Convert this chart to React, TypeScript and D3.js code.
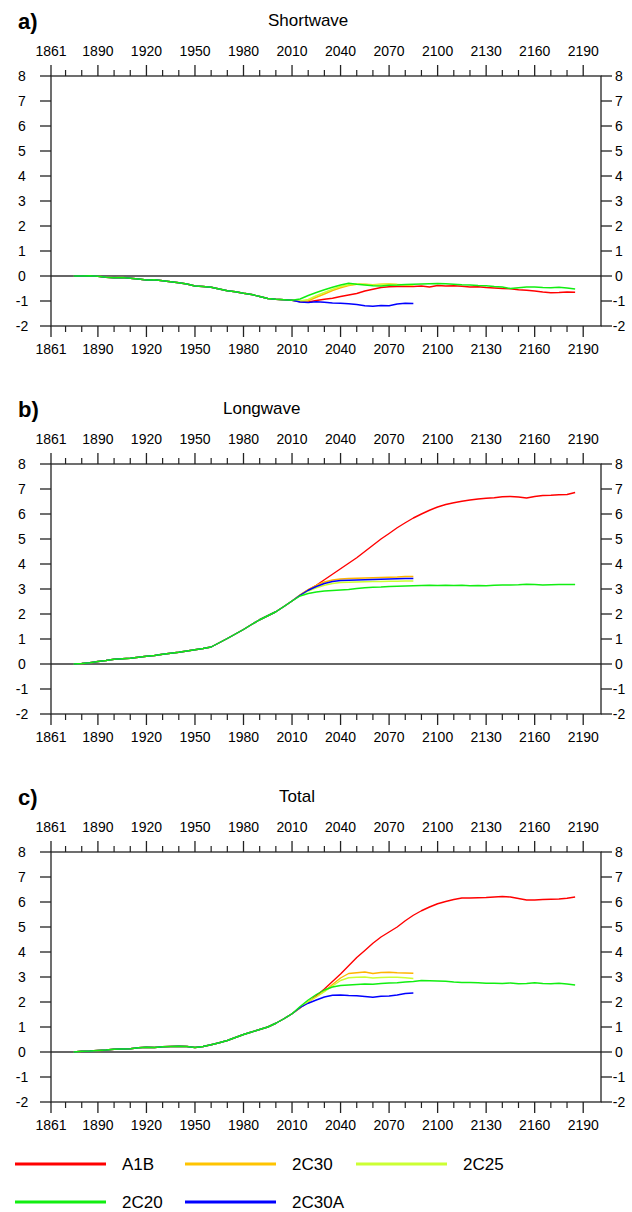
import React, { useEffect, useRef } from 'react';
import * as d3 from 'd3';

// years shared by every run before the scenarios split
const histYears = [
  1875, 1880, 1885, 1890, 1895, 1900, 1905, 1910, 1915, 1920, 1925, 1930, 1935, 1940,
  1945, 1950, 1955, 1960, 1965, 1970, 1975, 1980, 1985, 1990, 1995, 2000, 2005, 2010,
];
// scenario years (long runs); short runs stop at 2085
const scenYears = [
  2010, 2015, 2020, 2025, 2030, 2035, 2040, 2045, 2050, 2055, 2060, 2065, 2070, 2075,
  2080, 2085, 2090, 2095, 2100, 2105, 2110, 2115, 2120, 2125, 2130, 2135, 2140, 2145,
  2150, 2155, 2160, 2165, 2170, 2175, 2180, 2185,
];

const xMajorTicks = [1861, 1890, 1920, 1950, 1980, 2010, 2040, 2070, 2100, 2130, 2160, 2190];
const xMinorTicks = [
  1870, 1880, 1900, 1910, 1930, 1940, 1960, 1970, 1990, 2000, 2020, 2030, 2050, 2060,
  2080, 2090, 2110, 2120, 2140, 2150, 2170, 2180,
];
const yTicks = [-2, -1, 0, 1, 2, 3, 4, 5, 6, 7, 8];

const seriesNames = ['A1B', '2C30', '2C25', '2C30A', '2C20'];
const seriesColors = ['#ff0000', '#ffb400', '#ccff33', '#0000ff', '#11ee11'];
const legendNames = ['A1B', '2C30', '2C25', '2C20', '2C30A'];
const legendColors = ['#ff0000', '#ffc400', '#ccff33', '#11ee11', '#0000ff'];

// a) Shortwave
const swHist = [
  0.0, 0.0, 0.01, -0.01, -0.05, -0.07, -0.06, -0.09, -0.12, -0.16, -0.15, -0.19, -0.23, -0.27,
  -0.32, -0.4, -0.42, -0.45, -0.52, -0.59, -0.63, -0.69, -0.74, -0.82, -0.9, -0.93, -0.95, -0.97,
];
const swA1B = [
  -0.97, -1.03, -1.04, -0.98, -0.93, -0.89, -0.82, -0.76, -0.7, -0.6, -0.53, -0.46, -0.43, -0.42,
  -0.41, -0.42, -0.4, -0.44, -0.38, -0.4, -0.39, -0.41, -0.44, -0.43, -0.46, -0.48, -0.5, -0.51,
  -0.55, -0.57, -0.6, -0.64, -0.67, -0.66, -0.64, -0.65,
];
const sw2C30 = [-0.97, -1.02, -0.99, -0.85, -0.72, -0.58, -0.47, -0.38, -0.33, -0.33, -0.35, -0.33, -0.32, -0.34, -0.35, -0.36];
const sw2C25 = [-0.97, -1.0, -0.94, -0.79, -0.66, -0.53, -0.42, -0.35, -0.32, -0.34, -0.36, -0.34, -0.33, -0.34, -0.35, -0.36];
const sw2C30A = [-0.97, -1.04, -1.06, -1.03, -1.05, -1.08, -1.09, -1.11, -1.14, -1.19, -1.21, -1.18, -1.19, -1.12, -1.09, -1.1];
const sw2C20 = [
  -0.97, -0.92, -0.78, -0.66, -0.55, -0.45, -0.36, -0.29, -0.33, -0.36, -0.39, -0.4, -0.37, -0.36,
  -0.34, -0.33, -0.32, -0.31, -0.3, -0.31, -0.33, -0.35, -0.36, -0.38, -0.39, -0.42, -0.44, -0.5,
  -0.47, -0.44, -0.44, -0.46, -0.47, -0.45, -0.48, -0.52,
];

// b) Longwave
const lwHist = [
  0.0, 0.02, 0.05, 0.1, 0.14, 0.19, 0.21, 0.23, 0.27, 0.31, 0.34, 0.39, 0.43, 0.47,
  0.52, 0.57, 0.62, 0.68, 0.85, 1.02, 1.2, 1.38, 1.58, 1.77, 1.93, 2.09, 2.3, 2.52,
];
const lwA1B = [
  2.52, 2.76, 2.97, 3.15, 3.37, 3.59, 3.81, 4.03, 4.25, 4.5, 4.75, 5.0, 5.22, 5.45,
  5.65, 5.84, 6.0, 6.15, 6.28, 6.38, 6.45, 6.51, 6.56, 6.6, 6.63, 6.65, 6.69, 6.7,
  6.68, 6.64, 6.7, 6.74, 6.75, 6.77, 6.78, 6.86,
];
const lw2C30 = [2.52, 2.77, 2.98, 3.15, 3.28, 3.36, 3.4, 3.42, 3.43, 3.44, 3.45, 3.46, 3.47, 3.48, 3.5, 3.5];
const lw2C25 = [2.52, 2.74, 2.92, 3.05, 3.15, 3.22, 3.26, 3.27, 3.28, 3.29, 3.3, 3.3, 3.31, 3.31, 3.32, 3.32];
const lw2C30A = [2.52, 2.75, 2.95, 3.1, 3.22, 3.3, 3.34, 3.35, 3.36, 3.37, 3.38, 3.39, 3.4, 3.41, 3.42, 3.42];
const lw2C20 = [
  2.52, 2.72, 2.82, 2.88, 2.92, 2.94, 2.96, 2.98, 3.02, 3.05, 3.07, 3.08, 3.1, 3.11,
  3.12, 3.13, 3.14, 3.15, 3.14, 3.15, 3.14, 3.15, 3.13, 3.14, 3.13, 3.15, 3.16, 3.16,
  3.17, 3.19, 3.18, 3.16, 3.17, 3.18, 3.18, 3.18,
];

// c) Total
const totHist = [
  0.0, 0.03, 0.04, 0.06, 0.08, 0.11, 0.12, 0.13, 0.17, 0.19, 0.18, 0.21, 0.22, 0.23,
  0.22, 0.18, 0.22, 0.29, 0.37, 0.46, 0.58, 0.7, 0.8, 0.9, 1.0, 1.15, 1.33, 1.53,
];
const totA1B = [
  1.53, 1.76, 2.0, 2.25, 2.52, 2.82, 3.12, 3.45, 3.78, 4.06, 4.35, 4.6, 4.8, 5.0,
  5.25, 5.47, 5.65, 5.8, 5.93, 6.02, 6.1, 6.16, 6.16, 6.17, 6.18, 6.2, 6.22, 6.2,
  6.14, 6.08, 6.08, 6.1, 6.11, 6.12, 6.15, 6.2,
];
const tot2C30 = [1.53, 1.77, 2.0, 2.21, 2.43, 2.7, 2.96, 3.14, 3.17, 3.2, 3.14, 3.18, 3.19, 3.17, 3.16, 3.15];
const tot2C25 = [1.53, 1.78, 2.01, 2.2, 2.41, 2.64, 2.86, 2.97, 2.99, 3.0, 2.96, 2.98, 2.99, 2.99, 2.97, 2.94];
const tot2C30A = [1.53, 1.78, 1.95, 2.08, 2.2, 2.27, 2.28, 2.26, 2.25, 2.22, 2.19, 2.23, 2.24, 2.28, 2.34, 2.36];
const tot2C20 = [
  1.53, 1.82, 2.08, 2.3, 2.48, 2.6, 2.66, 2.68, 2.7, 2.72, 2.71, 2.74, 2.76, 2.77,
  2.8, 2.82, 2.86, 2.85, 2.84, 2.83, 2.8, 2.78, 2.78, 2.77, 2.75, 2.75, 2.74, 2.76,
  2.73, 2.74, 2.77, 2.74, 2.73, 2.75, 2.72, 2.68,
];

const panels = [
  { label: 'a)', title: 'Shortwave', titleX: 268, top: 76, hist: swHist, runs: [swA1B, sw2C30, sw2C25, sw2C30A, sw2C20] },
  { label: 'b)', title: 'Longwave', titleX: 223, top: 464, hist: lwHist, runs: [lwA1B, lw2C30, lw2C25, lw2C30A, lw2C20] },
  { label: 'c)', title: 'Total', titleX: 279, top: 852, hist: totHist, runs: [totA1B, tot2C30, tot2C25, tot2C30A, tot2C20] },
];

const width = 632;
const height = 1212;
const left = 51;
const right = 601;
const panelH = 250;
const font = '"Liberation Sans", Arial, Helvetica, sans-serif';

const App = () => {
  const ref = useRef<SVGSVGElement>(null);

  useEffect(() => {
    const svg = d3.select(ref.current);
    svg.selectAll('*').remove();

    const x = d3.scaleLinear().domain([1861, 2201]).range([left, right]);

    panels.forEach(p => {
      const y = d3.scaleLinear().domain([-2, 8]).range([p.top + panelH, p.top]);
      const g = svg.append('g');

      // panel label and title
      g.append('text')
        .attr('x', 18).attr('y', p.top - 47)
        .style('font-size', '22px').style('font-weight', 'bold')
        .text(p.label);
      g.append('text')
        .attr('x', p.titleX).attr('y', p.top - 50)
        .style('font-size', '17px')
        .text(p.title);

      // zero line
      g.append('line')
        .attr('x1', left).attr('x2', right)
        .attr('y1', y(0)).attr('y2', y(0))
        .attr('stroke', '#333').attr('stroke-width', 1.3);

      // curves
      const line = d3.line<[number, number]>()
        .x(d => x(d[0]))
        .y(d => y(d[1]));

      p.runs.forEach((run, i) => {
        const pts: [number, number][] = p.hist.map((v, k) => [histYears[k], v] as [number, number])
          .concat(run.map((v, k) => [scenYears[k], v] as [number, number]).slice(1));
        g.append('path')
          .attr('d', line(pts))
          .attr('fill', 'none')
          .attr('stroke', seriesColors[i])
          .attr('stroke-width', 1.4)
          .attr('stroke-linejoin', 'round')
          .attr('data-name', seriesNames[i]);
      });

      // frame
      g.append('rect')
        .attr('x', left).attr('y', p.top)
        .attr('width', right - left).attr('height', panelH)
        .attr('fill', 'none').attr('stroke', '#222').attr('stroke-width', 1.3);

      // x ticks top & bottom
      const bottom = p.top + panelH;
      xMajorTicks.forEach(t => {
        g.append('line').attr('x1', x(t)).attr('x2', x(t)).attr('y1', p.top).attr('y2', p.top - 11)
          .attr('stroke', '#222').attr('stroke-width', 1.3);
        g.append('line').attr('x1', x(t)).attr('x2', x(t)).attr('y1', bottom).attr('y2', bottom + 11)
          .attr('stroke', '#222').attr('stroke-width', 1.3);
        g.append('text').attr('x', x(t)).attr('y', p.top - 20)
          .attr('text-anchor', 'middle').style('font-size', '14px').text(t);
        g.append('text').attr('x', x(t)).attr('y', bottom + 28)
          .attr('text-anchor', 'middle').style('font-size', '14px').text(t);
      });
      xMinorTicks.forEach(t => {
        g.append('line').attr('x1', x(t)).attr('x2', x(t)).attr('y1', p.top).attr('y2', p.top - 6)
          .attr('stroke', '#222').attr('stroke-width', 1.2);
        g.append('line').attr('x1', x(t)).attr('x2', x(t)).attr('y1', bottom).attr('y2', bottom + 6)
          .attr('stroke', '#222').attr('stroke-width', 1.2);
      });

      // y ticks left & right
      yTicks.forEach(t => {
        g.append('line').attr('x1', left).attr('x2', left - 11).attr('y1', y(t)).attr('y2', y(t))
          .attr('stroke', '#222').attr('stroke-width', 1.3);
        g.append('line').attr('x1', right).attr('x2', right + 11).attr('y1', y(t)).attr('y2', y(t))
          .attr('stroke', '#222').attr('stroke-width', 1.3);
        g.append('text').attr('x', 22).attr('y', y(t) + 5)
          .attr('text-anchor', 'middle').style('font-size', '14px').text(t);
        g.append('text').attr('x', 619).attr('y', y(t) + 5)
          .attr('text-anchor', 'middle').style('font-size', '14px').text(t);
      });
    });

    // legend
    const legX = [15, 185, 356];
    const legY = [1164, 1202];
    legendNames.forEach((name, i) => {
      const lx = legX[i % 3];
      const ly = legY[Math.floor(i / 3)];
      svg.append('line')
        .attr('x1', lx).attr('x2', lx + 91)
        .attr('y1', ly).attr('y2', ly)
        .attr('stroke', legendColors[i]).attr('stroke-width', 3);
      svg.append('text')
        .attr('x', lx + 107).attr('y', ly + 6)
        .style('font-size', '17px')
        .text(name);
    });
  }, []);

  return (
    <svg
      ref={ref}
      width={width}
      height={height}
      style={{ position: 'absolute', left: 0, top: 0, fontFamily: font, background: '#fff' }}
    />
  );
};

export default App;
